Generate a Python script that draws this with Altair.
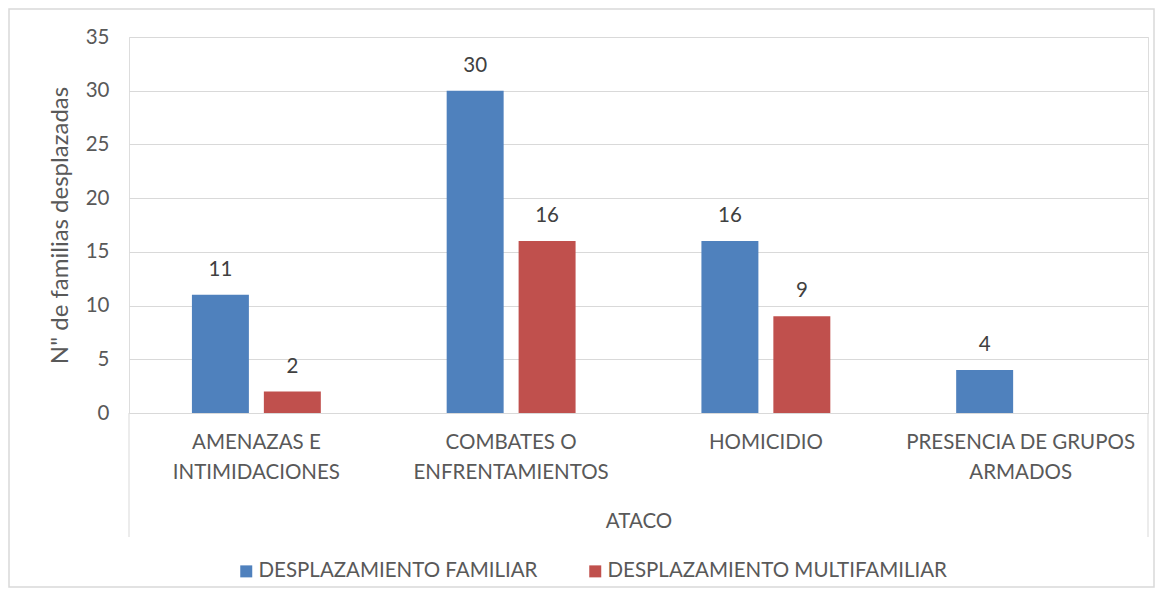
import altair as alt
import pandas as pd

categorias = ["AMENAZAS E|INTIMIDACIONES", "COMBATES O|ENFRENTAMIENTOS", "HOMICIDIO", "PRESENCIA DE GRUPOS|ARMADOS"]
series = ["DESPLAZAMIENTO FAMILIAR", "DESPLAZAMIENTO MULTIFAMILIAR"]
familiar = [11, 30, 16, 4]
multifamiliar = [2, 16, 9, None]
colores = ["#4F81BD", "#C0504D"]
y_ticks = [0, 5, 10, 15, 20, 25, 30, 35]

rows = []
for c, f, m in zip(categorias, familiar, multifamiliar):
    if f is not None:
        rows.append({"categoria": c, "serie": series[0], "valor": f})
    if m is not None:
        rows.append({"categoria": c, "serie": series[1], "valor": m})
df = pd.DataFrame(rows)

W, H = 1019, 376
FONT = "Lato"
GRAY = "#595959"
LINE = "#d9d9d9"

x_enc = alt.X(
    "categoria:N", sort=categorias,
    scale=alt.Scale(paddingInner=0.494, paddingOuter=0.247),
    axis=alt.Axis(
        title="ATACO", labelExpr="split(datum.label, '|')", labelAngle=0,
        labelFontSize=20.5, labelColor=GRAY, labelPadding=19, labelLineHeight=30,
        labelFont=FONT, labelLimit=500, ticks=False, tickSize=0, domainColor=LINE, domainWidth=1,
        titleFontSize=20.5, titleFontWeight="normal", titleColor=GRAY, titleFont=FONT,
        titleY=108, titleBaseline="middle",
    ),
)
xo_enc = alt.XOffset("serie:N", sort=series, scale=alt.Scale(paddingInner=0.208, paddingOuter=0))
y_enc = alt.Y(
    "valor:Q", scale=alt.Scale(domain=[0, 35], nice=False),
    axis=alt.Axis(
        values=y_ticks, title='N" de familias desplazadas', labelFontSize=20.5,
        labelColor=GRAY, labelPadding=20, labelFont=FONT, ticks=False, domain=False,
        gridColor=LINE, gridWidth=1, titleFontSize=24, titleFontWeight="normal",
        titleColor=GRAY, titleFont=FONT, titlePadding=13,
    ),
)
color_enc = alt.Color(
    "serie:N", sort=series, scale=alt.Scale(domain=series, range=colores),
    legend=alt.Legend(
        title=None, orient="none", legendX=107, legendY=524, direction="horizontal",
        symbolType="square", symbolSize=144, symbolStrokeWidth=0, labelFontSize=20.5,
        labelColor=GRAY, labelFont=FONT, labelLimit=500, columnPadding=47, labelOffset=2,
    ),
)

bars = alt.Chart(df).mark_bar().encode(x=x_enc, xOffset=xo_enc, y=y_enc, color=color_enc)
labels = alt.Chart(df).mark_text(
    dy=-25, fontSize=20.5, color="#404040", font=FONT, baseline="middle"
).encode(x=x_enc, xOffset=xo_enc, y=y_enc, text=alt.Text("valor:Q"))

frame_df = pd.DataFrame({"k": [0]})
frame = alt.Chart(frame_df).mark_rect(fill=None, stroke=LINE, strokeWidth=1.5).encode(
    x=alt.value(-120), x2=alt.value(W + 6), y=alt.value(-28), y2=alt.value(H + 174)
)
vline_left = alt.Chart(frame_df).mark_rule(color=LINE, strokeWidth=1).encode(
    x=alt.value(0), y=alt.value(H), y2=alt.value(H + 124)
)
vline_right = alt.Chart(frame_df).mark_rule(color=LINE, strokeWidth=1).encode(
    x=alt.value(W), y=alt.value(H), y2=alt.value(H + 124)
)

chart = alt.layer(frame, bars, labels, vline_left, vline_right).properties(
    width=W, height=H,
    autosize=alt.AutoSizeParams(type="none"),
    padding={"left": 121, "top": 29, "right": 7, "bottom": 175},
).configure_view(stroke=None).configure(background="white", font=FONT)

chart.save("out.html", embed_options={"renderer": "svg", "actions": False})
